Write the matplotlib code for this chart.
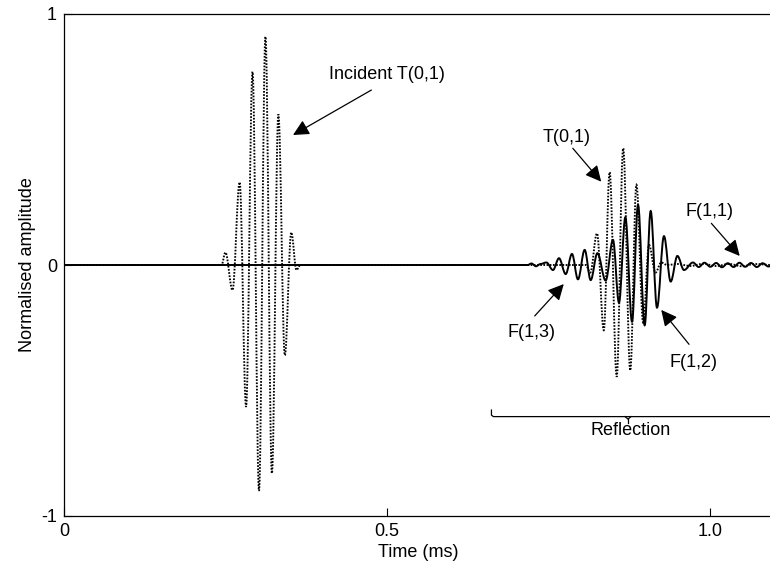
import numpy as np
import matplotlib
matplotlib.use("Agg")
import matplotlib.pyplot as plt
from matplotlib.path import Path
from matplotlib.patches import PathPatch

plt.rcParams["font.family"] = ["Liberation Sans", "DejaVu Sans"]
plt.rcParams["font.size"] = 13

# Torsional T(0,1) trace (dotted): incident packet and its reflection,
# given as the turning points of the signal
t_torsion = [0.0, 0.244, 0.250, 0.261, 0.272, 0.282, 0.292, 0.302, 0.312,
             0.322, 0.332, 0.342, 0.352, 0.360, 0.366,
             0.808, 0.815, 0.8255, 0.836, 0.845, 0.856, 0.866, 0.877,
             0.8865, 0.897, 0.906, 0.916, 0.925, 0.934,
             0.95, 0.97, 0.99, 1.01, 1.03, 1.05, 1.07, 1.097]
a_torsion = [0.0, 0.0, 0.05, -0.10, 0.33, -0.565, 0.77, -0.90, 0.91,
             -0.83, 0.60, -0.36, 0.13, -0.02, 0.0,
             0.0, -0.03, 0.126, -0.26, 0.37, -0.445, 0.465, -0.42,
             0.32, -0.23, 0.08, -0.03, 0.01, 0.0,
             0.004, -0.004, 0.005, -0.004, 0.004, -0.005, 0.004, 0.0]

# Flexural F(1,n) trace (solid) in the reflected part
t_flex = [0.0, 0.718, 0.724, 0.731, 0.738, 0.7471, 0.7573, 0.7666, 0.7770,
          0.7867, 0.7960, 0.8064, 0.8157, 0.8261, 0.8389, 0.8502, 0.8595,
          0.8694, 0.8797, 0.8890, 0.8993, 0.9086, 0.9184, 0.9292, 0.9396,
          0.9500, 0.9602, 0.9741, 0.983, 0.992, 1.001, 1.010, 1.019, 1.028,
          1.037, 1.046, 1.055, 1.064, 1.073, 1.082, 1.091, 1.097]
a_flex = [0.0, 0.0, 0.006, -0.005, 0.004, 0.01, -0.02, 0.027, -0.036,
          0.044, -0.057, 0.06, -0.06, 0.047, -0.062, 0.10, -0.15,
          0.19, -0.226, 0.24, -0.24, 0.215, -0.17, 0.115, -0.066,
          0.036, -0.02, 0.01, -0.008, 0.009, -0.007, 0.008, -0.009, 0.007,
          -0.008, 0.009, -0.007, 0.008, -0.008, 0.007, -0.006, 0.0]

x_ticks = [0, 0.5, 1.0]
x_tick_labels = ["0", "0.5", "1.0"]
y_ticks = [-1, 0, 1]
y_tick_labels = ["-1", "0", "1"]


def wave_path(t, a):
    # cubic segments with flat tangents at each turning point
    verts = [(t[0], a[0])]
    codes = [Path.MOVETO]
    for i in range(1, len(t)):
        dt = t[i] - t[i - 1]
        verts += [(t[i - 1] + 0.364 * dt, a[i - 1]),
                  (t[i] - 0.364 * dt, a[i]),
                  (t[i], a[i])]
        codes += [Path.CURVE4] * 3
    return Path(verts, codes)


fig = plt.figure(figsize=(7.7, 5.69), dpi=100)
ax = fig.add_axes([64 / 770, 53 / 569, 708 / 770, 502 / 569])

ax.add_patch(PathPatch(wave_path(t_flex, a_flex), facecolor="none",
                       edgecolor="black", linewidth=1.4))
ax.add_patch(PathPatch(wave_path(t_torsion, a_torsion), facecolor="none",
                       edgecolor="black", linewidth=1.35,
                       linestyle=(0, (0.9, 0.8))))

ax.set_xlim(0, 1.0965)
ax.set_ylim(-1, 1)
ax.set_xticks(x_ticks)
ax.set_xticklabels(x_tick_labels)
ax.set_yticks(y_ticks)
ax.set_yticklabels(y_tick_labels)
ax.tick_params(direction="in", length=5.5, width=0.8, pad=5)
for s in ax.spines.values():
    s.set_linewidth(0.9)

ax.set_xlabel("Time (ms)", labelpad=3)
ax.set_ylabel("Normalised amplitude", labelpad=4)

arrow = dict(arrowstyle="-|>", color="black", lw=0.9,
             mutation_scale=24, shrinkA=0, shrinkB=0)

ax.annotate("", xy=(0.3547, 0.518), xytext=(0.476, 0.697), arrowprops=arrow)
ax.text(0.4998, 0.757, "Incident T(0,1)", ha="center", va="center")

ax.annotate("", xy=(0.832, 0.332), xytext=(0.788, 0.465), arrowprops=arrow)
ax.text(0.7785, 0.508, "T(0,1)", ha="center", va="center")

ax.annotate("", xy=(1.0465, 0.036), xytext=(1.0026, 0.166), arrowprops=arrow)
ax.text(0.9992, 0.215, "F(1,1)", ha="center", va="center")

ax.annotate("", xy=(0.774, -0.076), xytext=(0.729, -0.203), arrowprops=arrow)
ax.text(0.7239, -0.269, "F(1,3)", ha="center", va="center")

ax.annotate("", xy=(0.925, -0.179), xytext=(0.968, -0.316), arrowprops=arrow)
ax.text(0.9752, -0.388, "F(1,2)", ha="center", va="center")

# brace marking the reflected packets
ax.plot([0.662, 0.662, 0.665, 1.0965], [-0.578, -0.598, -0.604, -0.604],
        color="black", linewidth=0.9, clip_on=False)
ax.plot([0.869, 0.8735, 0.878], [-0.604, -0.614, -0.604],
        color="black", linewidth=0.9)
ax.plot([0.8735, 0.8735], [-0.614, -0.631], color="black", linewidth=0.9)
ax.text(0.877, -0.66, "Reflection", ha="center", va="center")

fig.savefig("out.png", dpi=100)
